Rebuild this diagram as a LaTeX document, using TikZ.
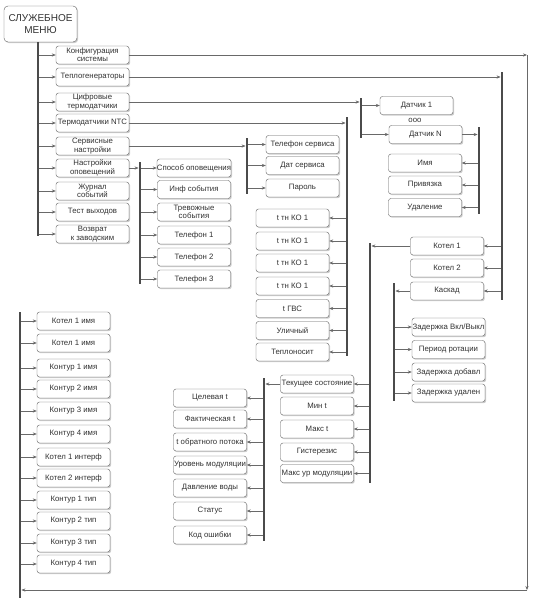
\documentclass[tikz,border=0pt]{standalone}
\usepackage{fontspec}
\setmainfont{Liberation Sans}
\usetikzlibrary{arrows.meta, shadows}
\definecolor{boxgray}{RGB}{95,95,95}
\definecolor{busgray}{RGB}{75,75,75}
\definecolor{linegray}{RGB}{105,105,105}
\definecolor{textgray}{RGB}{50,50,50}

\begin{document}
\begin{tikzpicture}[
    x=1pt, y=-1pt,
    every node/.style={text=textgray},
    menubox/.style={draw=boxgray, fill=white, rounded corners=2.5pt, thin,
      minimum width=73pt, minimum height=18pt, inner sep=0pt, align=center,
      font=\fontsize{7.8}{8.4}\selectfont,
      drop shadow={shadow xshift=1.2pt, shadow yshift=-1.2pt, fill=black!40}},
    titlebox/.style={menubox, minimum height=36pt, rounded corners=4pt,
      font=\fontsize{10}{11.5}\selectfont},
    conn/.style={draw=linegray, line width=0.6pt, -{Stealth[length=4pt,width=3.2pt]}},
    tobus/.style={conn, shorten >=1.4pt},
    bus/.style={draw=busgray, line width=2.6pt}
  ]
  \useasboundingbox (0,0) rectangle (535,600);

  \node[titlebox] (menu) at (40.5,24) {СЛУЖЕБНОЕ\\МЕНЮ};

  \node[menubox] (konf)  at (92.5,55)  {Конфигурация\\системы};
  \node[menubox] (teplo) at (92.5,77)  {Теплогенераторы};
  \node[menubox] (cifr)  at (92.5,102) {Цифровые\\термодатчики};
  \node[menubox] (ntc)   at (92.5,123) {Термодатчики NTC};
  \node[menubox] (serv)  at (92.5,146) {Сервисные\\настройки};
  \node[menubox] (opov)  at (92.5,168) {Настройки\\оповещений};
  \node[menubox] (zhurn) at (92.5,191) {Журнал\\событий};
  \node[menubox] (test)  at (92.5,212) {Тест выходов};
  \node[menubox] (vozvr) at (92.5,234) {Возврат\\к заводским};

  \node[menubox] (dat1) at (416.5,105.5) {Датчик 1};
  \node[font=\fontsize{7.8}{8.4}\selectfont] (dots) at (415,120) {ооо};
  \node[menubox] (datn) at (425.5,134.5) {Датчик N};
  \node[menubox] (imya) at (425,163)     {Имя};
  \node[menubox] (priv) at (425,185)     {Привязка};
  \node[menubox] (udal) at (425,207.5)   {Удаление};

  \node[menubox] (telserv) at (302.5,144.5) {Телефон сервиса};
  \node[menubox] (datserv) at (302.5,165.5) {Дат сервиса};
  \node[menubox] (parol)   at (302.5,188)   {Пароль};

  \node[menubox] (tko1) at (292.5,218)   {t тн КО 1};
  \node[menubox] (tko2) at (292.5,241)   {t тн КО 1};
  \node[menubox] (tko3) at (292.5,263)   {t тн КО 1};
  \node[menubox] (tko4) at (292.5,286)   {t тн КО 1};
  \node[menubox] (tgvs) at (292.5,308.5) {t ГВС};
  \node[menubox] (ulic) at (292.5,330.5) {Уличный};
  \node[menubox] (tnos) at (292.5,352)   {Теплоносит};

  \node[menubox] (sposob) at (194,168)   {Способ оповещения};
  \node[menubox] (inf)    at (194,189.5) {Инф события};
  \node[menubox] (trev)   at (194,212)   {Тревожные\\события};
  \node[menubox] (tel1)   at (194,235)   {Телефон 1};
  \node[menubox] (tel2)   at (194,257)   {Телефон 2};
  \node[menubox] (tel3)   at (194,279)   {Телефон 3};

  \node[menubox] (kot1) at (447,246) {Котел 1};
  \node[menubox] (kot2) at (447,268) {Котел 2};
  \node[menubox] (kask) at (447,291) {Каскад};

  \node[menubox] (zvkl)  at (448.5,327)   {Задержка Вкл/Выкл};
  \node[menubox] (perrot) at (448.5,349.5) {Период ротации};
  \node[menubox] (zdob)  at (448.5,372)   {Задержка добавл};
  \node[menubox] (zudal) at (448.5,393)   {Задержка удален};

  \node[menubox] (tek)   at (317,384)   {Текущее состояние};
  \node[menubox] (mint)  at (317,406)   {Мин t};
  \node[menubox] (maxt)  at (317,429)   {Макс t};
  \node[menubox] (gist)  at (317,452)   {Гистерезис};
  \node[menubox] (maxur) at (317,473.5) {Макс ур модуляции};

  \node[menubox] (celt)  at (210,398) {Целевая t};
  \node[menubox] (faktt) at (210,419) {Фактическая t};
  \node[menubox] (tobr)  at (210,442) {t обратного потока};
  \node[menubox] (urmod) at (210,465) {Уровень модуляции};
  \node[menubox] (davl)  at (210,488) {Давление воды};
  \node[menubox] (stat)  at (210,511) {Статус};
  \node[menubox] (kodosh) at (210,535) {Код ошибки};

  \node[menubox] (k1im1) at (73.5,321) {Котел 1 имя};
  \node[menubox] (k1im2) at (73.5,343) {Котел 1 имя};
  \node[menubox] (kt1im) at (73.5,368) {Контур 1 имя};
  \node[menubox] (kt2im) at (73.5,389) {Контур 2 имя};
  \node[menubox] (kt3im) at (73.5,411) {Контур 3 имя};
  \node[menubox] (kt4im) at (73.5,434) {Контур 4 имя};
  \node[menubox] (k1int) at (73.5,457) {Котел 1 интерф};
  \node[menubox] (k2int) at (73.5,478) {Котел 2 интерф};
  \node[menubox] (kt1tp) at (73.5,500) {Контур 1 тип};
  \node[menubox] (kt2tp) at (73.5,521) {Контур 2 тип};
  \node[menubox] (kt3tp) at (73.5,543) {Контур 3 тип};
  \node[menubox] (kt4tp) at (73.5,564) {Контур 4 тип};

  \coordinate (mbus) at (38,42);   \coordinate (mbusend) at (38,236);
  \coordinate (dbus) at (361,98);  \coordinate (dbusend) at (361,138);
  \coordinate (nbus) at (479,127); \coordinate (nbusend) at (479,214);
  \coordinate (tbus) at (347,117); \coordinate (tbusend) at (347,356);
  \coordinate (sbus) at (247,138); \coordinate (sbusend) at (247,194);
  \coordinate (obus) at (140,162); \coordinate (obusend) at (140,284);
  \coordinate (rbus) at (502,72);  \coordinate (rbusend) at (502,300);
  \coordinate (kbus) at (370,243); \coordinate (kbusend) at (370,483);
  \coordinate (cbus) at (264,378); \coordinate (cbusend) at (264,541);
  \coordinate (casbus) at (394,283); \coordinate (casbusend) at (394,401);
  \coordinate (lbus) at (20,312);  \coordinate (lbusend) at (20,598);
  \coordinate (rtop) at (527,55);  \coordinate (rbot) at (527,590);

  \draw[conn] (mbus) |- (konf);
  \draw[conn] (mbus) |- (teplo);
  \draw[conn] (mbus) |- (cifr);
  \draw[conn] (mbus) |- (ntc);
  \draw[conn] (mbus) |- (serv);
  \draw[conn] (mbus) |- (opov);
  \draw[conn] (mbus) |- (zhurn);
  \draw[conn] (mbus) |- (test);
  \draw[conn] (mbus) |- (vozvr);

  \draw[conn] (konf) -- (rtop);
  \draw[conn] (rtop) -- (rbot);
  \draw[tobus] (rbot) -- (rbot -| lbus);

  \draw[tobus] (teplo) -- (teplo -| rbus);
  \draw[conn] (rbus) |- (kot1);
  \draw[conn] (rbus) |- (kot2);
  \draw[conn] (rbus) |- (kask);

  \draw[tobus] (cifr) -- (cifr -| dbus);
  \draw[conn] (dbus) |- (dat1);
  \draw[conn] (dbus) |- (datn);
  \draw[tobus] (datn) -- (datn -| nbus);
  \draw[conn] (nbus) |- (imya);
  \draw[conn] (nbus) |- (priv);
  \draw[conn] (nbus) |- (udal);

  \draw[tobus] (ntc) -- (ntc -| tbus);
  \draw[conn] (tbus) |- (tko1);
  \draw[conn] (tbus) |- (tko2);
  \draw[conn] (tbus) |- (tko3);
  \draw[conn] (tbus) |- (tko4);
  \draw[conn] (tbus) |- (tgvs);
  \draw[conn] (tbus) |- (ulic);
  \draw[conn] (tbus) |- (tnos);

  \draw[tobus] (serv) -- (serv -| sbus);
  \draw[conn] (sbus) |- (telserv);
  \draw[conn] (sbus) |- (datserv);
  \draw[conn] (sbus) |- (parol);

  \draw[tobus] (opov) -- (opov -| obus);
  \draw[conn] (obus) |- (sposob);
  \draw[conn] (obus) |- (inf);
  \draw[conn] (obus) |- (trev);
  \draw[conn] (obus) |- (tel1);
  \draw[conn] (obus) |- (tel2);
  \draw[conn] (obus) |- (tel3);

  \draw[tobus] (kot1) -- (kot1 -| kbus);
  \draw[conn] (kbus) |- (tek);
  \draw[conn] (kbus) |- (mint);
  \draw[conn] (kbus) |- (maxt);
  \draw[conn] (kbus) |- (gist);
  \draw[conn] (kbus) |- (maxur);

  \draw[tobus] (tek) -- (tek -| cbus);
  \draw[conn] (cbus) |- (celt);
  \draw[conn] (cbus) |- (faktt);
  \draw[conn] (cbus) |- (tobr);
  \draw[conn] (cbus) |- (urmod);
  \draw[conn] (cbus) |- (davl);
  \draw[conn] (cbus) |- (stat);
  \draw[conn] (cbus) |- (kodosh);

  \draw[tobus] (kask) -- (kask -| casbus);
  \draw[conn] (casbus) |- (zvkl);
  \draw[conn] (casbus) |- (perrot);
  \draw[conn] (casbus) |- (zdob);
  \draw[conn] (casbus) |- (zudal);

  \draw[conn] (lbus) |- (k1im1);
  \draw[conn] (lbus) |- (k1im2);
  \draw[conn] (lbus) |- (kt1im);
  \draw[conn] (lbus) |- (kt2im);
  \draw[conn] (lbus) |- (kt3im);
  \draw[conn] (lbus) |- (kt4im);
  \draw[conn] (lbus) |- (k1int);
  \draw[conn] (lbus) |- (k2int);
  \draw[conn] (lbus) |- (kt1tp);
  \draw[conn] (lbus) |- (kt2tp);
  \draw[conn] (lbus) |- (kt3tp);
  \draw[conn] (lbus) |- (kt4tp);

  \draw[bus] (mbus) -- (mbusend);
  \draw[bus] (dbus) -- (dbusend);
  \draw[bus] (nbus) -- (nbusend);
  \draw[bus] (tbus) -- (tbusend);
  \draw[bus] (sbus) -- (sbusend);
  \draw[bus] (obus) -- (obusend);
  \draw[bus] (rbus) -- (rbusend);
  \draw[bus] (kbus) -- (kbusend);
  \draw[bus] (cbus) -- (cbusend);
  \draw[bus] (casbus) -- (casbusend);
  \draw[bus] (lbus) -- (lbusend);
\end{tikzpicture}
\end{document}
